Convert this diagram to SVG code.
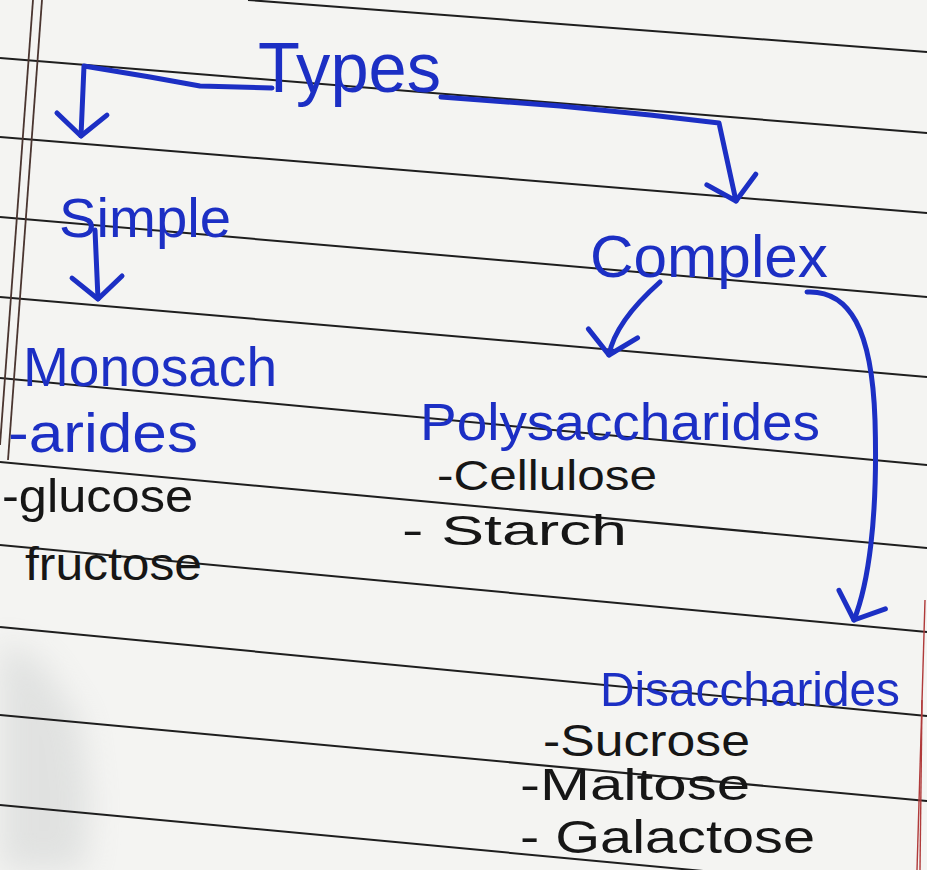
<svg xmlns="http://www.w3.org/2000/svg" width="927" height="870" viewBox="0 0 927 870">
<defs>
<style>
.rule{stroke:#1e1e1e;stroke-width:2;fill:none}
.margin{stroke:#4a3530;stroke-width:1.8;fill:none}
.rmargin{stroke:#b03a3a;stroke-width:1.4;fill:none}
.conn{stroke:#1c2fc4;stroke-width:5;fill:none;stroke-linecap:round;stroke-linejoin:round}
.blue{fill:#1c2fc4;font-family:"Liberation Sans",Arial,sans-serif}
.ink{fill:#161616;font-family:"Liberation Sans",Arial,sans-serif}
</style>
<marker id="arrow" viewBox="0 0 40 60" refX="32" refY="30" markerWidth="40" markerHeight="60" markerUnits="userSpaceOnUse" orient="auto">
<path d="M10,5 L32,30 L10,55" fill="none" stroke="#1c2fc4" stroke-width="5" stroke-linecap="round" stroke-linejoin="round"/>
</marker>
<filter id="soft" x="-50%" y="-50%" width="200%" height="200%"><feGaussianBlur stdDeviation="16"/></filter>
</defs>
<rect width="927" height="870" fill="#f4f4f2"/>
<path d="M0,640 L40,660 L80,720 L90,800 L85,870 L0,870 Z" fill="#c9cccc" opacity="0.45" filter="url(#soft)"/>
<g id="paper">
<path class="rule" d="M248,0 L927,52"/>
<path class="rule" d="M0,58 L927,133"/>
<path class="rule" d="M0,137 L927,213"/>
<path class="rule" d="M0,217 L927,297"/>
<path class="rule" d="M0,297 L927,377"/>
<path class="rule" d="M0,378 L927,465"/>
<path class="rule" d="M0,462 L927,548"/>
<path class="rule" d="M0,545 L927,632"/>
<path class="rule" d="M0,627 L927,716"/>
<path class="rule" d="M0,715 L927,801"/>
<path class="rule" d="M0,805 L927,892"/>
<path class="margin" d="M33,0 L0,445"/>
<path class="margin" d="M42,0 L8,460"/>
<path class="rmargin" d="M925,600 L917,870"/>
<path class="rmargin" d="M922,700 L920,870"/>
</g>
<g id="connectors">
<path class="conn" d="M272,88 L200,86 L150,77 L84,66 L81,136" marker-end="url(#arrow)"/>
<path class="conn" d="M441,97 L560,106 L650,115 L719,123 L736,201" marker-end="url(#arrow)"/>
<path class="conn" d="M95,230 L98,299" marker-end="url(#arrow)"/>
<path class="conn" d="M660,282 Q615,322 609,355" marker-end="url(#arrow)"/>
<path class="conn" d="M807,292 C850,290 872,330 875,420 C878,520 868,585 854,620" marker-end="url(#arrow)"/>
</g>
<g id="types"><text class="blue" x="258" y="92" font-size="70" textLength="183" lengthAdjust="spacingAndGlyphs">Types</text></g>
<g id="simple"><text class="blue" x="59" y="237" font-size="56" textLength="172" lengthAdjust="spacingAndGlyphs">Simple</text></g>
<g id="complex"><text class="blue" x="590" y="277" font-size="60" textLength="238" lengthAdjust="spacingAndGlyphs">Complex</text></g>
<g id="monosaccharides">
<text class="blue" x="23" y="386" font-size="56" textLength="254" lengthAdjust="spacingAndGlyphs">Monosach</text>
<text class="blue" x="8" y="452" font-size="56" textLength="190" lengthAdjust="spacingAndGlyphs">-arides</text>
<text class="ink" x="2" y="512" font-size="46" textLength="191" lengthAdjust="spacingAndGlyphs">-glucose</text>
<text class="ink" x="25" y="580" font-size="46" textLength="177" lengthAdjust="spacingAndGlyphs">fructose</text>
</g>
<g id="polysaccharides">
<text class="blue" x="420" y="440" font-size="52" textLength="400" lengthAdjust="spacingAndGlyphs">Polysaccharides</text>
<text class="ink" x="437" y="490" font-size="42" textLength="220" lengthAdjust="spacingAndGlyphs">-Cellulose</text>
<text class="ink" x="402" y="545" font-size="42" textLength="225" lengthAdjust="spacingAndGlyphs">- Starch</text>
</g>
<g id="disaccharides">
<text class="blue" x="600" y="706" font-size="49" textLength="300" lengthAdjust="spacingAndGlyphs">Disaccharides</text>
<text class="ink" x="543" y="756" font-size="44" textLength="207" lengthAdjust="spacingAndGlyphs">-Sucrose</text>
<text class="ink" x="520" y="800" font-size="44" textLength="230" lengthAdjust="spacingAndGlyphs">-Maltose</text>
<text class="ink" x="520" y="853" font-size="46" textLength="295" lengthAdjust="spacingAndGlyphs">- Galactose</text>
</g>
</svg>
